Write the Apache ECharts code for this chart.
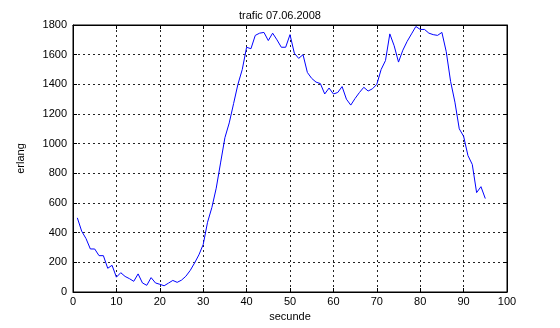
<!DOCTYPE html>
<html>
<head>
<meta charset="utf-8">
<script src="https://cdn.jsdelivr.net/npm/echarts@6/dist/echarts.min.js"></script>
<style>
  html, body { margin: 0; padding: 0; background: #fff; }
  #chart { width: 560px; height: 328px; }
</style>
</head>
<body>
<div id="chart"></div>
<script>
// seconds 1..95
const seconds = Array.from({ length: 95 }, (_, i) => i + 1)
const erlang = [
  500, 410, 360, 290, 290, 245, 245, 160, 180, 100,
  130, 105, 90, 72, 122, 61, 45, 97, 61, 52,
  42, 60, 78, 65, 80, 106, 145, 195, 250, 320,
  470, 570, 700, 870, 1040, 1140, 1270, 1400, 1500, 1650,
  1640, 1730, 1745, 1750, 1695, 1745, 1700, 1650, 1650, 1735,
  1610, 1575, 1600, 1480, 1440, 1415, 1405, 1335, 1375, 1335,
  1345, 1385, 1300, 1260, 1305, 1345, 1380, 1355, 1370, 1400,
  1500, 1560, 1740, 1660, 1550, 1630, 1690, 1740, 1790, 1770,
  1770, 1745, 1735, 1730, 1750, 1620, 1420, 1280, 1100, 1050,
  920, 860, 670, 710, 630
]
const titleText = 'trafic 07.06.2008'
const xName = 'secunde'
const yName = 'erlang'

const chart = echarts.init(document.getElementById('chart'))

const font = 'Liberation Sans, Arial, sans-serif'
const gridLine = { show: true, lineStyle: { color: '#222', type: [2, 3], width: 1 } }
const tickIn = { show: true, inside: true, length: 4, lineStyle: { color: '#000' } }
const frame = { show: true, onZero: false, lineStyle: { color: '#000', width: 1 } }

chart.setOption({
  animation: false,
  title: {
    text: titleText,
    left: 'center',
    top: 5,
    textStyle: { fontSize: 11, fontWeight: 'normal', color: '#000', fontFamily: font }
  },
  grid: { left: 73, right: 53, top: 25, bottom: 36, show: true, borderColor: '#000', borderWidth: 1 },
  xAxis: [
    {
      type: 'value', min: 0, max: 100, interval: 10,
      name: xName, nameLocation: 'middle', nameGap: 17,
      nameTextStyle: { fontSize: 11, color: '#000', fontFamily: font },
      axisLine: frame, axisTick: tickIn, splitLine: gridLine,
      axisLabel: { fontSize: 11, color: '#000', fontFamily: font, margin: 4 }
    },
    {
      type: 'value', min: 0, max: 100, interval: 10, position: 'top',
      axisLine: frame, axisTick: tickIn, splitLine: { show: false }, axisLabel: { show: false }
    }
  ],
  yAxis: [
    {
      type: 'value', min: 0, max: 1800, interval: 200,
      name: yName, nameLocation: 'middle', nameGap: 47,
      nameTextStyle: { fontSize: 11, color: '#000', fontFamily: font },
      axisLine: frame, axisTick: tickIn, splitLine: gridLine,
      axisLabel: { fontSize: 11, color: '#000', fontFamily: font, margin: 6, formatter: v => String(v) }
    },
    {
      type: 'value', min: 0, max: 1800, interval: 200, position: 'right',
      axisLine: frame, axisTick: tickIn, splitLine: { show: false }, axisLabel: { show: false }
    }
  ],
  series: [
    {
      type: 'line',
      data: seconds.map((s, i) => [s, erlang[i]]),
      symbol: 'none',
      lineStyle: { color: '#0000ff', width: 1 }
    }
  ]
})
</script>
</body>
</html>
